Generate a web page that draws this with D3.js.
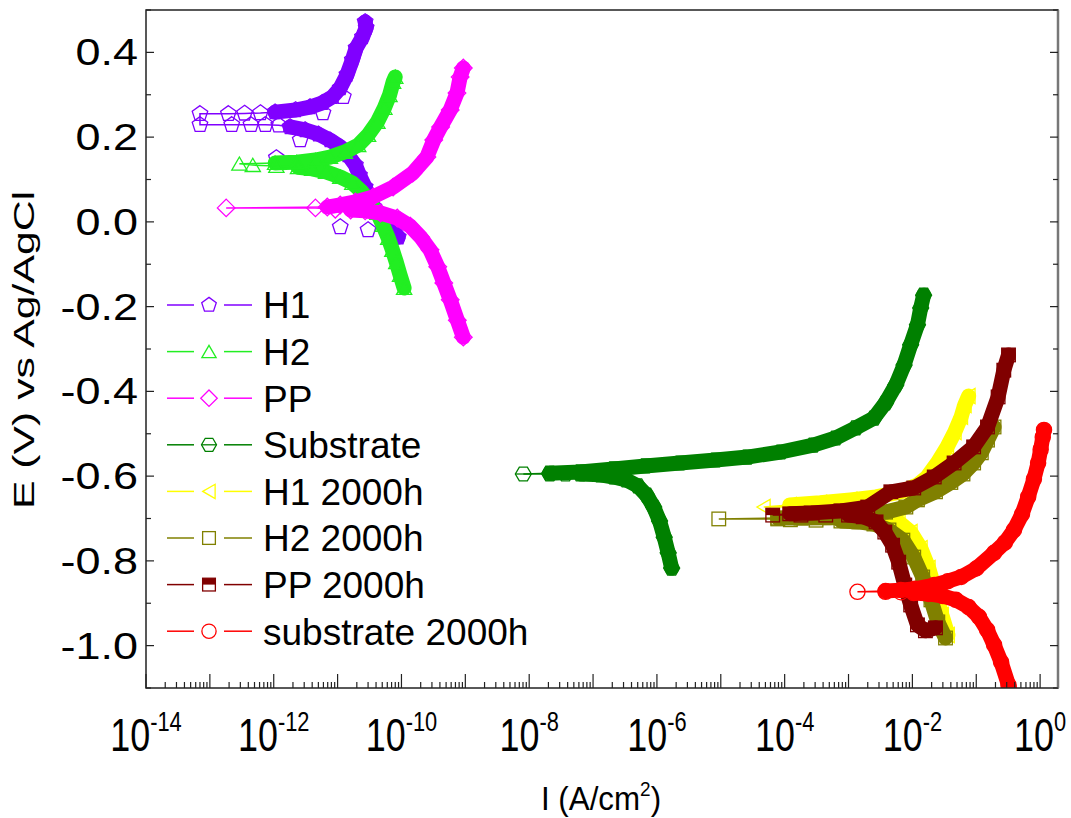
<!DOCTYPE html>
<html><head><meta charset="utf-8">
<script src="https://cdn.jsdelivr.net/npm/d3@7"></script>
<style>body{margin:0;background:#fff}svg{display:block;font-family:"Liberation Sans",Arial,sans-serif}</style>
</head><body><svg id="c" width="1071" height="818"></svg>
<script>
// ---- data: [I (A/cm2), E (V)] ----
const xTickExps = [-14,-12,-10,-8,-6,-4,-2,0];
const yTicks = [-1.0,-0.8,-0.6,-0.4,-0.2,0.0,0.2,0.4];
const legendNames = ["H1","H2","PP","Substrate","H1 2000h","H2 2000h","PP 2000h","substrate 2000h"];

const h1Cath = [[8.9e-11,-0.036],[7.4e-11,-0.019],[5.6e-11,0.0],[4.7e-11,0.016],[3.7e-11,0.035],[3.2e-11,0.052],[2.7e-11,0.082],[2.2e-11,0.11],[1.9e-11,0.134],[1.45e-11,0.158],[1.1e-11,0.177],[7.6e-12,0.193],[5e-12,0.207],[3.1e-12,0.217],[1.8e-12,0.224]];
const h1Corr = [[1.2e-12,0.228],[7.4e-13,0.229],[4.4e-13,0.229],[2.2e-13,0.229],[7e-14,0.229],[7e-14,0.255],[1.95e-13,0.255],[3.5e-13,0.256],[6.2e-13,0.257]];
const h1Anod = [[1.05e-12,0.259],[2.2e-12,0.264],[3.7e-12,0.271],[5.8e-12,0.281],[8.3e-12,0.295],[1.1e-11,0.316],[1.4e-11,0.347],[1.7e-11,0.382],[1.95e-11,0.41],[2.45e-11,0.436],[2.8e-11,0.458],[2.7e-11,0.472]];
const h1Scatter = [[1.23e-11,0.295],[5.9e-12,0.257],[2.6e-12,0.193],[1.1e-12,0.151],[1.1e-11,-0.012],[3e-11,-0.019]];

const h2Cath = [[1.1e-10,-0.156],[9.5e-11,-0.125],[8.3e-11,-0.095],[7.2e-11,-0.066],[6.2e-11,-0.038],[5.1e-11,-0.007],[4.2e-11,0.021],[3.2e-11,0.047],[2.4e-11,0.071],[1.7e-11,0.092],[1.1e-11,0.106],[6.6e-12,0.118],[4e-12,0.125],[2.4e-12,0.129]];
const h2Corr = [[1.1e-12,0.132],[4.7e-13,0.134],[2.9e-13,0.137]];
const h2Anod = [[1.05e-12,0.139],[2.3e-12,0.141],[4.5e-12,0.146],[7.6e-12,0.153],[1.3e-11,0.165],[2.1e-11,0.181],[3e-11,0.205],[4.2e-11,0.236],[5.4e-11,0.269],[6.5e-11,0.299],[7.4e-11,0.33],[8e-11,0.342]];

const ppCath = [[9.3e-10,-0.272],[7.5e-10,-0.232],[5.8e-10,-0.184],[4.6e-10,-0.144],[3.7e-10,-0.106],[2.8e-10,-0.066],[2.0e-10,-0.036],[1.37e-10,-0.01],[8.6e-11,0.009],[4.7e-11,0.021],[2.7e-11,0.026],[1.6e-11,0.028]];
const ppCorr = [[9.2e-12,0.030],[4.5e-12,0.033],[1.8e-13,0.033]];
const ppAnod = [[6.9e-12,0.035],[1.1e-11,0.04],[1.9e-11,0.047],[3.6e-11,0.059],[7.4e-11,0.082],[1.5e-10,0.115],[2.5e-10,0.153],[3.2e-10,0.193],[4.1e-10,0.224],[5.8e-10,0.264],[7.4e-10,0.304],[8.3e-10,0.342],[9.3e-10,0.363]];

const subCath = [[1.7e-6,-0.817],[1.5e-6,-0.781],[1.3e-6,-0.744],[1.1e-6,-0.706],[8.9e-7,-0.673],[6.9e-7,-0.645],[5e-7,-0.623],[3.3e-7,-0.609],[2.1e-7,-0.602],[1.3e-7,-0.597],[6.3e-8,-0.595]];
const subCorr = [[3.7e-8,-0.595],[2.1e-8,-0.595],[8.1e-9,-0.595]];
const subAnod = [[2.1e-8,-0.593],[6.3e-8,-0.59],[2.1e-7,-0.583],[6.6e-7,-0.576],[2.3e-6,-0.569],[8.3e-6,-0.562],[2.6e-5,-0.555],[8.7e-5,-0.543],[2.8e-4,-0.527],[6.3e-4,-0.51],[1.3e-3,-0.486],[2.5e-3,-0.463],[3.8e-3,-0.427],[5.5e-3,-0.385],[7.4e-3,-0.338],[9.4e-3,-0.29],[1.2e-2,-0.243],[1.35e-2,-0.203],[1.5e-2,-0.173]];

const y2kCath = [[3.6e-2,-0.975],[2.9e-2,-0.928],[2.3e-2,-0.873],[1.8e-2,-0.817],[1.35e-2,-0.77],[9.4e-3,-0.732],[6.1e-3,-0.708],[3.8e-3,-0.692],[2.2e-3,-0.682],[1.3e-3,-0.678]];
const y2kCorr = [[5.2e-4,-0.675],[1.8e-4,-0.673],[4.7e-5,-0.673]];
const y2kAnod = [[1.2e-4,-0.668],[3.6e-4,-0.663],[1.07e-3,-0.656],[2.7e-3,-0.649],[6.6e-3,-0.637],[1.2e-2,-0.621],[1.7e-2,-0.602],[2.5e-2,-0.567],[3.5e-2,-0.531],[4.6e-2,-0.496],[5.8e-2,-0.46],[6.6e-2,-0.432],[7.6e-2,-0.411]];

const o2kCath = [[3.3e-2,-0.982],[2.5e-2,-0.944],[1.95e-2,-0.892],[1.45e-2,-0.838],[1.05e-2,-0.791],[7.1e-3,-0.751],[4.3e-3,-0.727],[2.5e-3,-0.713],[1.45e-3,-0.708],[7.6e-4,-0.706]];
const o2kCorr = [[3.1e-4,-0.704],[1.23e-4,-0.703],[7.8e-5,-0.701],[9.3e-6,-0.701]];
const o2kAnod = [[7.8e-5,-0.699],[1.8e-4,-0.699],[5.2e-4,-0.698],[1.55e-3,-0.694],[3.8e-3,-0.685],[7.9e-3,-0.673],[1.2e-2,-0.656],[2.3e-2,-0.637],[4e-2,-0.615],[6.2e-2,-0.595],[9.1e-2,-0.569],[0.12,-0.545],[0.15,-0.515],[0.19,-0.484]];

const m2kCath = [[2.3e-2,-0.958],[1.6e-2,-0.965],[1.2e-2,-0.951],[9.4e-3,-0.904],[7.6e-3,-0.857],[6.1e-3,-0.803],[4.9e-3,-0.763],[3.7e-3,-0.732],[2.7e-3,-0.708],[1.7e-3,-0.696],[1e-3,-0.692]];
const m2kCorr = [[4.4e-4,-0.692],[1.8e-4,-0.692],[6.5e-5,-0.692]];
const m2kAnod = [[1.2e-4,-0.689],[2.6e-4,-0.687],[7.6e-4,-0.682],[2e-3,-0.673],[4.6e-3,-0.637],[1.05e-2,-0.628],[2.2e-2,-0.602],[4.5e-2,-0.569],[9.1e-2,-0.531],[0.15,-0.484],[0.22,-0.413],[0.27,-0.35],[0.32,-0.314]];

const r2kCath = [[0.37,-1.124],[0.32,-1.093],[0.245,-1.039],[0.19,-0.998],[0.148,-0.963],[0.11,-0.932],[7.6e-2,-0.909],[4.8e-2,-0.892],[3e-2,-0.883],[1.8e-2,-0.878],[1.05e-2,-0.876]];
const r2kCorr = [[6.6e-3,-0.874],[3.8e-3,-0.873],[1.38e-3,-0.873]];
const r2kAnod = [[3.8e-3,-0.871],[6.6e-3,-0.869],[1.1e-2,-0.866],[2.2e-2,-0.857],[3.6e-2,-0.848],[5.8e-2,-0.838],[0.1,-0.818],[0.19,-0.781],[0.28,-0.757],[0.39,-0.727],[0.52,-0.69],[0.65,-0.649],[0.8,-0.607],[0.93,-0.569],[1.02,-0.537],[1.1,-0.508],[1.15,-0.491]];

// ---- series table built from the arrays ----
const series = [
  {cath:h1Cath, corr:h1Corr, anod:h1Anod, scatter:h1Scatter, color:"#8000FF", shape:"pentagon"},
  {cath:h2Cath, corr:h2Corr, anod:h2Anod, color:"#22EE22", shape:"triangle"},
  {cath:ppCath, corr:ppCorr, anod:ppAnod, color:"#FF00FF", shape:"diamond"},
  {cath:subCath, corr:subCorr, anod:subAnod, color:"#008000", shape:"hexagon"},
  {cath:y2kCath, corr:y2kCorr, anod:y2kAnod, color:"#FFFF00", shape:"ltriangle"},
  {cath:o2kCath, corr:o2kCorr, anod:o2kAnod, color:"#808000", shape:"square"},
  {cath:m2kCath, corr:m2kCorr, anod:m2kAnod, color:"#800000", shape:"halfsquare"},
  {cath:r2kCath, corr:r2kCorr, anod:r2kAnod, color:"#FF0000", shape:"circle"}
];
series.forEach((s,i)=>s.name=legendNames[i]);

const M = {l:146, r:1058, t:10, b:688};
const x = d3.scaleLog().domain([1e-14, Math.pow(10,0.28)]).range([M.l, M.r]);
const y = d3.scaleLinear().domain([-1.1, 0.5]).range([M.b, M.t]);
const svg = d3.select("#c");

svg.append("defs").append("clipPath").attr("id","clip").append("rect")
  .attr("x",M.l).attr("y",M.t).attr("width",M.r-M.l).attr("height",M.b-M.t);

function poly(r, n, rot){
  const pts=[]; for(let k=0;k<n;k++){const a=(rot+k*360/n)*Math.PI/180; pts.push([r*Math.cos(a), r*Math.sin(a)]);}
  return "M"+pts.map(p=>p[0].toFixed(2)+","+p[1].toFixed(2)).join("L")+"Z";
}
function drawMarker(g, shape, cx, cy, color, size){
  const r=size/2;
  const mg=g.append("g").attr("transform",`translate(${cx},${cy})`);
  const st={fill:"none", stroke:color, "stroke-width":1.3};
  const ap=(el)=>{for(const k in st) el.attr(k,st[k]); return el;};
  if(shape==="pentagon") ap(mg.append("path").attr("d",poly(r*1.02,5,-90)));
  else if(shape==="triangle") ap(mg.append("path").attr("d",poly(r*1.1,3,-90)).attr("transform","translate(0,2)"));
  else if(shape==="ltriangle") ap(mg.append("path").attr("d",poly(r*1.1,3,180)).attr("transform","translate(2,0)"));
  else if(shape==="diamond") ap(mg.append("path").attr("d",poly(r*1.1,4,-90)));
  else if(shape==="hexagon"){ ap(mg.append("path").attr("d",poly(r,6,0))); ap(mg.append("path").attr("d",`M${-r},0L${r},0`)); }
  else if(shape==="square") ap(mg.append("rect").attr("x",-r*0.85).attr("y",-r*0.85).attr("width",r*1.7).attr("height",r*1.7));
  else if(shape==="halfsquare"){
    mg.append("rect").attr("x",-r*0.85).attr("y",-r*0.85).attr("width",r*1.7).attr("height",r*0.85).attr("fill",color);
    ap(mg.append("rect").attr("x",-r*0.85).attr("y",-r*0.85).attr("width",r*1.7).attr("height",r*1.7));
  }
  else if(shape==="circle") ap(mg.append("circle").attr("r",r*0.95));
}

const plot = svg.append("g").attr("clip-path","url(#clip)");
const line = d3.line().x(d=>x(d[0])).y(d=>y(d[1]));
series.forEach(s=>{
  const g = plot.append("g");
  [s.cath, s.anod].forEach(arr=>g.append("path").attr("d",line(arr)).attr("fill","none")
    .attr("stroke",s.color).attr("stroke-width",15).attr("stroke-linejoin","round").attr("stroke-linecap","round"));
  const conn=[s.cath[s.cath.length-1], ...s.corr, s.anod[0]];
  g.append("path").attr("d",line(conn)).attr("fill","none").attr("stroke",s.color).attr("stroke-width",1.5);
  [...s.cath, ...s.corr, ...s.anod, ...(s.scatter||[])].forEach(p=>drawMarker(g, s.shape, x(p[0]), y(p[1]), s.color, 16));
});

// frame
svg.append("rect").attr("x",M.l).attr("y",M.t).attr("width",M.r-M.l).attr("height",M.b-M.t)
  .attr("fill","none").attr("stroke","#222").attr("stroke-width",1.5);
svg.append("line").attr("x1",M.r).attr("x2",M.r).attr("y1",M.t).attr("y2",M.b).attr("stroke","#777").attr("stroke-width",2.5);

// x ticks
const decades = d3.range(-14, 1).map(e=>Math.pow(10,e));
const minors = [];
d3.range(-14, 1).forEach(e=>{ for(let m=2;m<=9;m++){ const v=m*Math.pow(10,e); if(v<=x.domain()[1]) minors.push(v);} });
const tg = svg.append("g").attr("stroke","#222").attr("stroke-width",1.2);
decades.forEach(v=>tg.append("line").attr("x1",x(v)).attr("x2",x(v)).attr("y1",M.b).attr("y2",M.b-14));
minors.forEach(v=>tg.append("line").attr("x1",x(v)).attr("x2",x(v)).attr("y1",M.b).attr("y2",M.b-6));
// y ticks (left and right, inward)
const yMinor = d3.range(-11, 6).map(k=>k/10).filter(v=>!yTicks.some(t=>Math.abs(t-v)<1e-9));
yTicks.forEach(v=>{ tg.append("line").attr("x1",M.l).attr("x2",M.l+8).attr("y1",y(v)).attr("y2",y(v));
  tg.append("line").attr("x1",M.r).attr("x2",M.r-8).attr("y1",y(v)).attr("y2",y(v)); });
yMinor.forEach(v=>{ tg.append("line").attr("x1",M.l).attr("x2",M.l+5).attr("y1",y(v)).attr("y2",y(v));
  tg.append("line").attr("x1",M.r).attr("x2",M.r-5).attr("y1",y(v)).attr("y2",y(v)); });

// y labels (slightly widened glyphs as in the reference)
yTicks.forEach(v=>svg.append("text").attr("transform",`translate(138,${y(v)}) scale(1.25,1)`).attr("dy","0.36em")
  .attr("text-anchor","end").attr("font-size",36).attr("fill","#000").text(d3.format(".1f")(v).replace("−","-")));
// x labels (condensed glyphs)
xTickExps.forEach(e=>{
  const t=svg.append("text").attr("transform",`translate(${x(Math.pow(10,e))},751) scale(0.78,1)`).attr("text-anchor","middle")
    .attr("font-size",46).attr("fill","#000");
  t.append("tspan").text("10");
  t.append("tspan").attr("dy",-20).attr("font-size",28).text(String(e));
});

// axis titles
svg.append("text").attr("transform","translate(34,350) rotate(-90)").attr("text-anchor","middle")
  .attr("font-size",29).attr("textLength",318).attr("lengthAdjust","spacingAndGlyphs").attr("fill","#000").text("E (V) vs Ag/AgCl");
const xt=svg.append("text").attr("transform","translate(601,810) scale(0.95,1)").attr("text-anchor","middle").attr("font-size",33).attr("fill","#000");
xt.append("tspan").text("I (A/cm");
xt.append("tspan").attr("dy",-14).attr("font-size",20).text("2");
xt.append("tspan").attr("dy",14).text(")");

// legend
series.forEach((s,i)=>{
  const cy=305+i*46.6;
  const g=svg.append("g");
  g.append("line").attr("x1",167).attr("x2",194).attr("y1",cy).attr("y2",cy).attr("stroke",s.color).attr("stroke-width",1.5);
  g.append("line").attr("x1",224).attr("x2",252).attr("y1",cy).attr("y2",cy).attr("stroke",s.color).attr("stroke-width",1.5);
  drawMarker(g, s.shape, 209, cy, s.color, 15);
  g.append("text").attr("x",263).attr("y",cy).attr("dy","0.36em").attr("font-size",37).attr("fill","#000").text(s.name);
});
</script></body></html>
